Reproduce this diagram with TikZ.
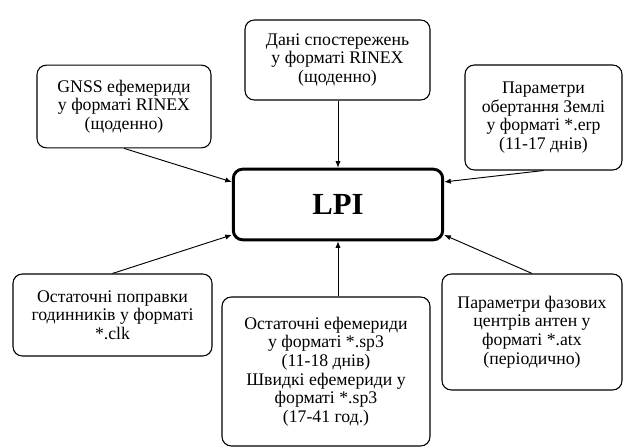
\documentclass[tikz,border=0pt]{standalone}
\usepackage{fontspec}
\setmainfont{Liberation Serif}
\usepackage{tikz}
\usetikzlibrary{arrows.meta,positioning,calc}

\begin{document}
\begin{tikzpicture}[
    x=0.75pt, y=-0.75pt,
    srcbox/.style={draw=black, line width=0.8pt, rounded corners=7pt, align=center, fill=white, inner sep=0pt, font=\fontsize{13.3}{14}\selectfont},
    mainbox/.style={draw=black, line width=2.2pt, rounded corners=7pt, minimum width=157pt, minimum height=53pt, font=\fontsize{23}{26}\selectfont\bfseries},
    arrow/.style={-{Latex[length=5pt, width=4pt]}, line width=0.7pt, black}
]
\useasboundingbox (0,0) rectangle (624,448);
% central node
\node[mainbox] (lpi) at (338,204.5) {LPI};
% input data boxes
\node[srcbox, minimum width=138.75pt, minimum height=60pt] (obs) at (337.5,60) {Дані спостережень\\у форматі RINEX\\(щоденно)};
\node[srcbox, minimum width=130.5pt, minimum height=62pt] (gnss) at (124,106.5) {GNSS ефемериди\\у форматі RINEX\\(щоденно)};
\node[srcbox, minimum width=117.75pt, minimum height=78.75pt] (erp) at (543.5,117.5) {Параметри\\обертання Землі\\у форматі *.erp\\(11-17 днів)};
\node[srcbox, minimum width=149.25pt, minimum height=61.5pt] (clk) at (112.5,315) {Остаточні поправки\\годинників у форматі\\*.clk};
\node[srcbox, minimum width=156pt, minimum height=111.75pt] (eph) at (326,371.5) {Остаточні ефемериди\\у форматі *.sp3\\(11-18 днів)\\Швидкі ефемериди у\\форматі *.sp3\\(17-41 год.)};
\node[srcbox, minimum width=135pt, minimum height=87pt] (atx) at (532,332) {Параметри фазових\\центрів антен у\\форматі *.atx\\(періодично)};
% connectors
\draw[arrow] (obs.south -| lpi.north) -- (lpi.north);
\draw[arrow] (gnss.south) -- (lpi.168);
\draw[arrow] (erp.south) -- (lpi.12);
\draw[arrow] (clk.north) -- (lpi.196);
\draw[arrow] (atx.north) -- (lpi.344);
\draw[arrow] (lpi.south |- eph.north) -- (lpi.south);
\end{tikzpicture}
\end{document}
